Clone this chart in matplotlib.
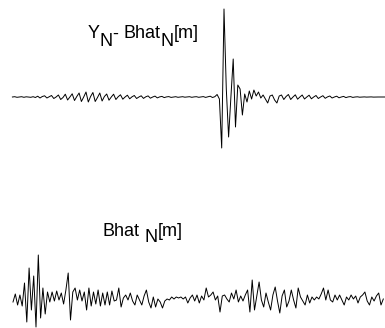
import matplotlib
matplotlib.use("Agg")
import matplotlib.pyplot as plt
import numpy as np

plt.rcParams['font.family'] = ['Liberation Sans', 'DejaVu Sans']

# Residual signal Y_N - Bhat_N[m] (arbitrary units, sampled uniformly)
residual = [
    0, 0.3, -0.3, 0, 0.3, -0.3, 0.2, 0, -0.3, 0.3,
    -0.5, 0.8, -1, 0.5, 1.2, -1, 0.3, 1.5, -1.5, 0,
    2, -2.5, -0.5, 2.8, -3, 0, 3.2, -3.5, 0.5, 4,
    -4.5, 0, 5, -5, 0.5, 4.5, -4.5, -0.5, 4, -4,
    0.5, 3, -3.2, 0, 2.8, -2.5, 0.3, 2.2, -2.2, 0,
    1.8, -1.8, 0.2, 1.5, -1.5, 0, 1.2, -1.4, 0.2, 1.1,
    -1.2, 0, 0.9, -0.9, 0.1, 0.6, -0.6, 0.1, 0.4, -0.4,
    0, 0.3, -0.3, 0, 0.3, -0.2, 0, 0.3, -0.3, 0.1,
    0.3, -0.3, 0, 0.4, -0.4, 0.2, 0.8, -0.5, 0.3, 2.5, -2,
    -51, 88, 8, -40, 0, 38, -30, 12, 8, -18,
    3, -5, 6, -2, 7, 1, 5, -1, 2, -2,
    -6, 1, 2, -3, -6, 1, 2, -2.5, 0.5, 2.5,
    -2.5, 0, 2.2, -2.2, 0, 2, -2, 0, 1.8, -1.8,
    0, 1.5, -1.5, 0, 1.3, -1.3, 0.1, 1.0, -1.0, 0,
    0.8, -0.8, 0, 0.6, -0.6, 0.1, 0.4, -0.4, 0,
    0.2, -0.2, 0, 0.1, -0.1, 0, 0.1, -0.1, 0, 0, 0, 0, 0,
]

# Estimated signal Bhat_N[m]
bhat = [
    -4, 4, -7, 3, -8, 15, -24, 30, -12, 22,
    -29, 43, -20, 10, -16, 6, -4, 6, -3, 7,
    -2, 5, -6, 8, 25, -22, 6, 10, -2, 8,
    -3, 6, -12, 10, -8, 6, -6, 8, -8, 5,
    -7, 6, -7, 7, -3, -2, 10, -9, 0, 3,
    -2, 5, -3, -7, 3, -2, -7, 2, 8, -4,
    -10, 1, -9, -1, -4, -10, -3, -1, -2, 1,
    -1, 1, 0, 1, -1, 1, -5, 0, 3, -3,
    3, -5, 2, -2, 10, 1, 3, 6, -2, 2,
    -14, 2, 3, -1, -4, 5, -1, 8, -4, 2,
    -3, 3, 8, -14, 18, -12, 2, 16, -2, -9,
    5, -4, -12, 3, 11, -3, -15, 2, 8, -9,
    -3, 8, -2, -10, 10, 1, -3, -7, 3, -5,
    1, -2, 1, -1, 4, 10, -2, 8, -2, -4,
    3, -2, 3, -2, -7, 1, -2, 3, -1, 2,
    -5, 1, 3, 6, -3, -7, 1, -3, 2, 5,
    -7, -1,
]

# Label pieces: (text, is_subscript, gap_after_in_spaces)
top_label = [("Y", False, 0), ("N", True, 0), ("-", False, 1),
             ("Bhat", False, 0), ("N", True, 0), ("[m]", False, 0)]
bottom_label = [("Bhat", False, 1), ("N", True, 0), ("[m]", False, 0)]

W, H = 385, 328
fig = plt.figure(figsize=(W / 100, H / 100), dpi=100)

dx = 2.3  # pixels per sample

# top panel: pixel rows 0..150, baseline at row 97
ax1 = fig.add_axes([0, 1 - 150 / H, 1, 150 / H])
n1 = np.arange(len(residual))
ax1.plot(n1, residual, color='black', lw=0.7)
x0 = 12.4
ax1.set_xlim(-x0 / dx, (W - x0) / dx)
ax1.set_ylim(-53, 97)
ax1.axis('off')

# bottom panel: pixel rows 240..328, baseline at row 298
ax2 = fig.add_axes([0, 0, 1, 88 / H])
n2 = np.arange(len(bhat))
ax2.plot(n2, bhat, color='black', lw=0.7, clip_on=False)
x0b = 13.0
ax2.set_xlim(-x0b / dx, (W - x0b) / dx)
ax2.set_ylim(-30, 58)
ax2.axis('off')

fs = 13
renderer = fig.canvas.get_renderer()
space_px = fs * 100 / 72 * 0.278


def put_label(pieces, x_start, base, sub_drop):
    xp = x_start
    for txt, sub, gap in pieces:
        yb = base + (sub_drop if sub else 0)
        t = fig.text(xp / W, 1 - yb / H, txt, fontsize=fs,
                     ha='left', va='baseline')
        w = t.get_window_extent(renderer).width
        xp += w + gap * space_px


put_label(top_label, 87.5, 38.5, 8)
put_label(bottom_label, 102.5, 235.7, 6)

fig.savefig("out.png", dpi=100)
